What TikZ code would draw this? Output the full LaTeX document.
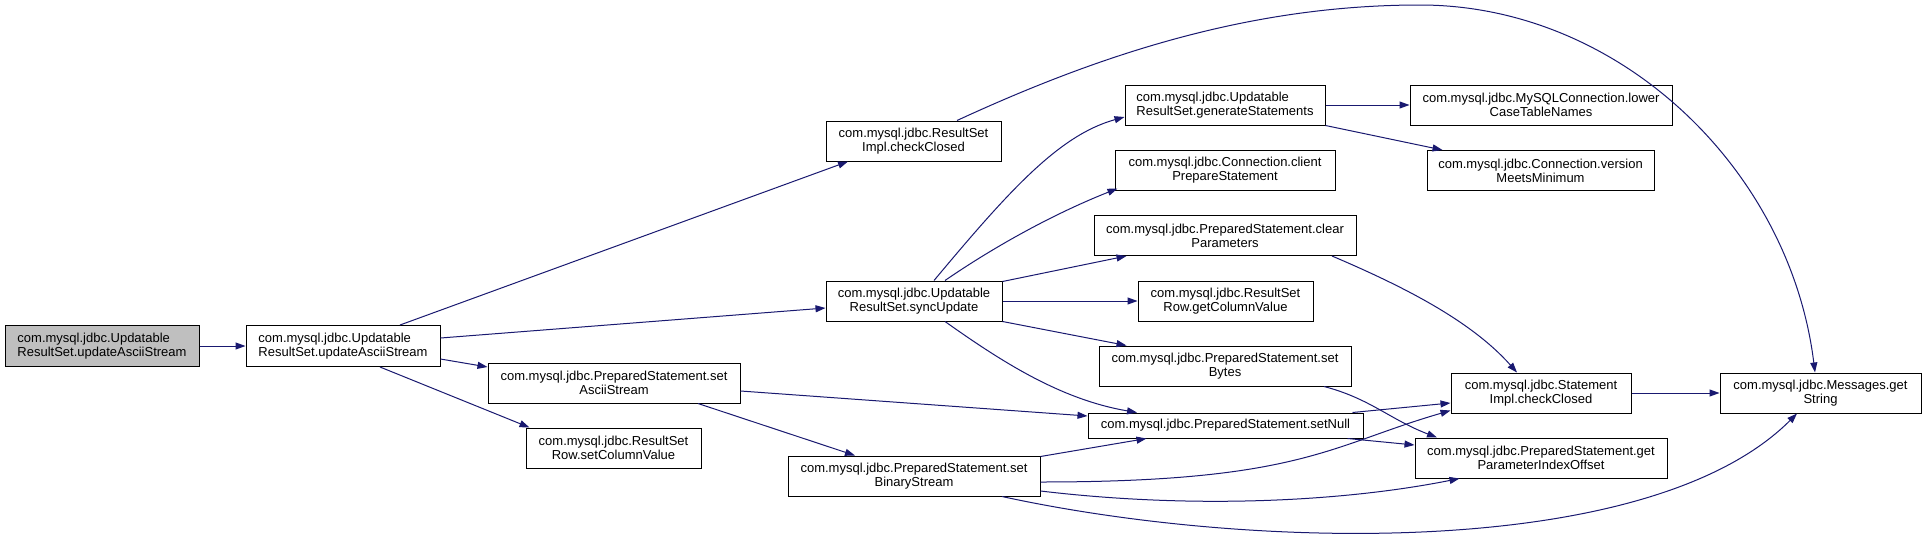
\documentclass[tikz,border=0pt]{standalone}
\usepackage{fontspec}
\usepackage{xcolor}
\usepackage{tikz}
\usetikzlibrary{calc,arrows.meta}
\newfontfamily\graphfont{Liberation Sans}
\definecolor{bg}{HTML}{FFFFFF}
\definecolor{edge}{HTML}{191970}
\definecolor{border}{HTML}{000000}
\definecolor{rootfill}{HTML}{BFBFBF}
\tikzset{
  fn/.style={draw=border, fill=bg, line width=1pt, inner sep=0pt, minimum height=40pt,
    align=center, font=\graphfont\fontsize{13}{14}\selectfont},
  fnl/.style={fn, align=left},
  root/.style={fnl, fill=rootfill},
  link/.style={draw=edge, line width=1pt, -{Triangle[length=10pt,width=7pt]}},
}
\begin{document}
\begin{tikzpicture}[x=1pt,y=-1pt]
\useasboundingbox[fill=bg] (0,0) rectangle (1925,541);
\node[root, minimum width=194pt, minimum height=41pt] (root) at (102,346) {com.mysql.jdbc.Updatable\\ResultSet.updateAsciiStream};
\node[fnl, minimum width=194pt, minimum height=41pt] (upd) at (343,346) {com.mysql.jdbc.Updatable\\ResultSet.updateAsciiStream};
\node[fn, minimum width=252pt] (setAscii) at (614,383) {com.mysql.jdbc.PreparedStatement.set\\AsciiStream};
\node[fn, minimum width=175pt] (setColVal) at (613.5,448) {com.mysql.jdbc.ResultSet\\Row.setColumnValue};
\node[fn, minimum width=252pt] (setBin) at (914,476) {com.mysql.jdbc.PreparedStatement.set\\BinaryStream};
\node[fn, minimum width=175pt] (rsClosed) at (913.5,141) {com.mysql.jdbc.ResultSet\\Impl.checkClosed};
\node[fn, minimum width=176pt] (sync) at (914,301) {com.mysql.jdbc.Updatable\\ResultSet.syncUpdate};
\node[fnl, minimum width=200pt] (genStmt) at (1225,105) {com.mysql.jdbc.Updatable\\ResultSet.generateStatements};
\node[fn, minimum width=220pt] (clientPrep) at (1225,170) {com.mysql.jdbc.Connection.client\\PrepareStatement};
\node[fn, minimum width=262pt] (clearParam) at (1225,235.5) {com.mysql.jdbc.PreparedStatement.clear\\Parameters};
\node[fn, minimum width=175pt] (getColVal) at (1225.5,301) {com.mysql.jdbc.ResultSet\\Row.getColumnValue};
\node[fn, minimum width=252pt] (setBytes) at (1225,366) {com.mysql.jdbc.PreparedStatement.set\\Bytes};
\node[fn, minimum width=275pt, minimum height=25pt] (setNull) at (1225.5,425.5) {com.mysql.jdbc.PreparedStatement.setNull};
\node[fn, minimum width=262pt] (lower) at (1541,105) {com.mysql.jdbc.MySQLConnection.lower\\CaseTableNames};
\node[fn, minimum width=227pt] (version) at (1540.5,170.5) {com.mysql.jdbc.Connection.version\\MeetsMinimum};
\node[fn, minimum width=180pt] (stmtClosed) at (1541,393) {com.mysql.jdbc.Statement\\Impl.checkClosed};
\node[fn, minimum width=252pt] (paramIdx) at (1541,458) {com.mysql.jdbc.PreparedStatement.get\\ParameterIndexOffset};
\node[fn, minimum width=201pt] (msgGet) at (1820.5,393) {com.mysql.jdbc.Messages.get\\String};

\draw[link] (root.east) -- (upd.west);
\draw[link] ($(upd.north)+(57,0)$) -- ($(rsClosed.south)+(-65.5,0)$);
\draw[link] ($(upd.east)+(0,-8)$) -- ($(sync.west)+(0,7)$);
\draw[link] ($(upd.east)+(0,13)$) -- ($(setAscii.west)+(0,-16)$);
\draw[link] ($(upd.south)+(37,0)$) -- ($(setColVal.north west)+(4,0)$);
\draw[link] ($(rsClosed.north)+(43.5,0)$) .. controls +(143,-66) and +(-170,0) .. (1420,5)
  .. controls +(200,0) and +(-25,-203) .. ($(msgGet.north)+(-5.5,0)$);
\draw[link] ($(sync.north)+(20,0)$) .. controls +(76,-91) and +(-65,18) .. ($(genStmt.west)+(0,12)$);
\draw[link] ($(sync.north)+(31,0)$) .. controls +(45,-31) and +(-68,27) .. ($(clientPrep.south west)+(3,-2)$);
\draw[link] ($(sync.north east)+(0,1)$) -- ($(clearParam.south west)+(33,0)$);
\draw[link] (sync.east) -- (getColVal.west);
\draw[link] (sync.south east) -- ($(setBytes.north west)+(28,0)$);
\draw[link] ($(sync.south)+(31,0)$) .. controls +(55,39) and +(-77,-13) .. ($(setNull.north)+(-88.5,0)$);
\draw[link] (genStmt.east) -- (lower.west);
\draw[link] (genStmt.south east) -- ($(version.north west)+(16,0)$);
\draw[link] ($(clearParam.south)+(107,0)$) .. controls +(68,29) and +(-47,-53) .. ($(stmtClosed.north)+(-24,0)$);
\draw[link] ($(setBytes.south)+(99,0)$) .. controls +(46,12) and +(-47,-18) .. ($(paramIdx.north)+(-104,0)$);
\draw[link] ($(setAscii.east)+(0,8)$) -- ($(setNull.west)+(0,-9.5)$);
\draw[link] ($(setAscii.south)+(84,0)$) -- ($(setBin.north)+(-59,0)$);
\draw[link] ($(setBin.north east)+(0,1)$) -- ($(setNull.south west)+(59,0)$);
\draw[link] ($(setBin.east)+(0,6)$) .. controls +(260,0) and +(-121,35) .. ($(stmtClosed.south west)+(0,-3)$);
\draw[link] ($(setBin.east)+(0,15)$) .. controls +(160,19) and +(-110,22) .. ($(paramIdx.south west)+(45,0)$);
\draw[link] ($(setBin.south)+(88,0)$) .. controls +(248,54) and +(-147,147) .. ($(msgGet.south)+(-23.5,0)$);
\draw[link] ($(setNull.north east)+(-11,0)$) -- ($(stmtClosed.west)+(0,10)$);
\draw[link] ($(setNull.south east)+(-16,0)$) -- ($(paramIdx.west)+(0,-13)$);
\draw[link] (stmtClosed.east) -- (msgGet.west);
\end{tikzpicture}
\end{document}
